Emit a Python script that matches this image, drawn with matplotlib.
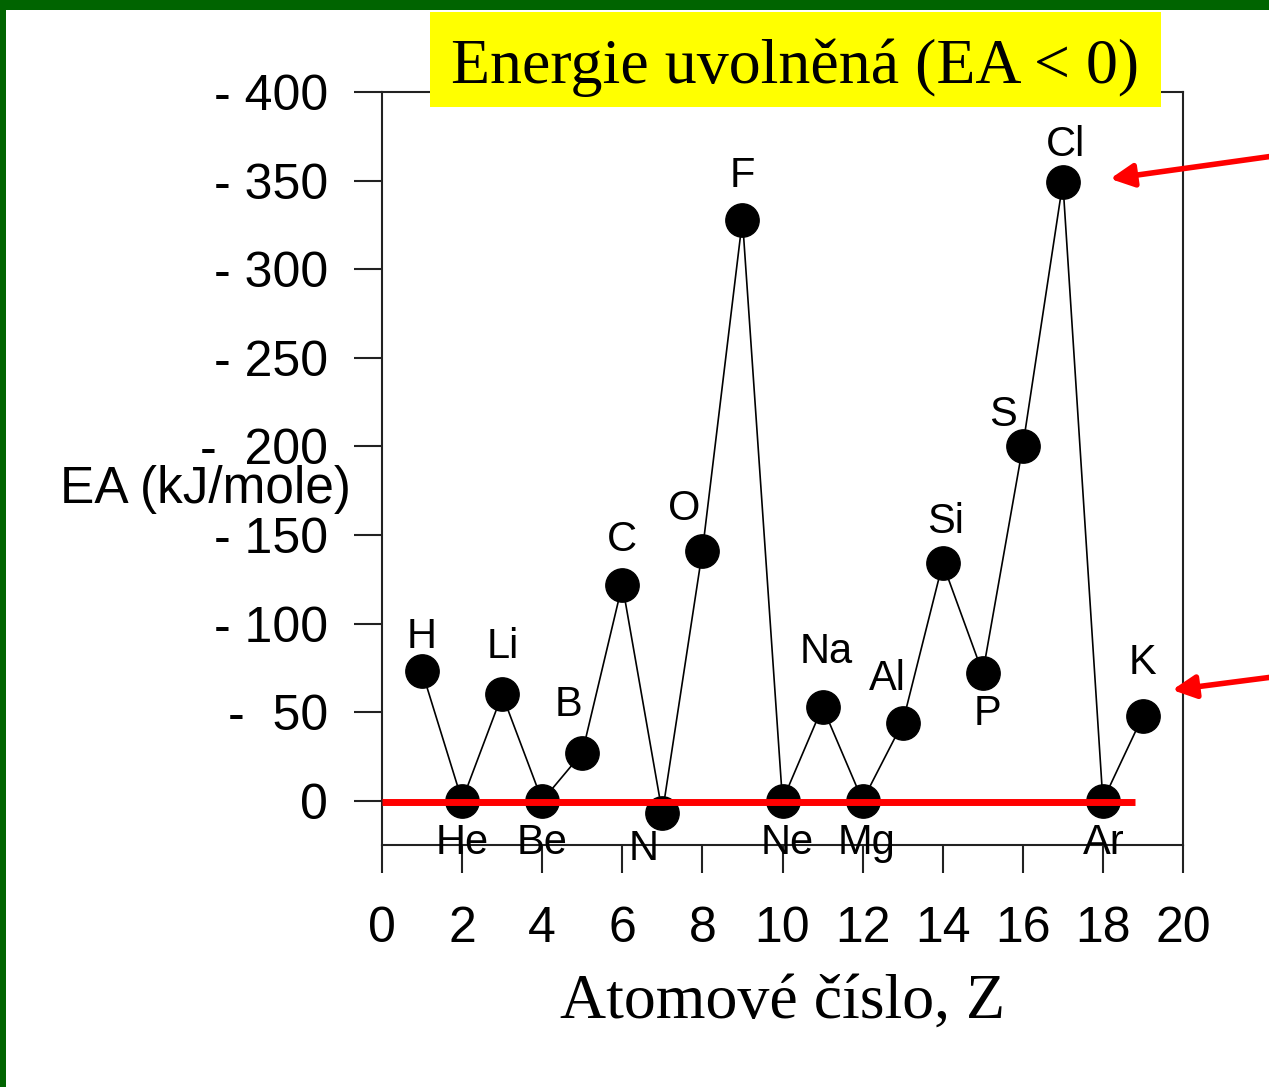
import matplotlib
matplotlib.use("Agg")
import matplotlib.pyplot as plt
from matplotlib.patches import Rectangle

# data: atomic number, element symbol, electron affinity magnitude (kJ/mol)
z_values = [1, 2, 3, 4, 5, 6, 7, 8, 9, 10, 11, 12, 13, 14, 15, 16, 17, 18, 19]
symbols = ["H", "He", "Li", "Be", "B", "C", "N", "O", "F", "Ne",
           "Na", "Mg", "Al", "Si", "P", "S", "Cl", "Ar", "K"]
ea_values = [73, 0, 60, 0, 27, 122, -7, 141, 328, 0,
             53, 0, 44, 134, 72, 200, 349, 0, 48]

y_ticks = [0, 50, 100, 150, 200, 250, 300, 350, 400]
y_tick_labels = ["0", "-  50", "- 100", "- 150", "-  200", "- 250", "- 300", "- 350", "- 400"]
x_ticks = [0, 2, 4, 6, 8, 10, 12, 14, 16, 18, 20]

# label offsets in pixels (dx, dy) relative to each point
label_offsets_px = [(0, 34), (0, -42), (1, 47), (0, -42), (-14, 48), (0, 45), (-19, -36),
                    (-18, 42), (0, 44), (5, -42), (4, 55), (4, -42), (-15, 44), (3, 41),
                    (5, -41), (-20, 31), (3, 37), (1, -42), (-1, 53)]

SANS = "Liberation Sans"
SERIF = "Liberation Serif"
W, H = 1269, 1087

fig = plt.figure(figsize=(W / 100, H / 100), dpi=100)
ax = fig.add_axes([382 / W, 1 - 845 / H, (1183 - 382) / W, (845 - 92) / H])

ax.plot(z_values, ea_values, color="black", lw=1.2, marker="o",
        markersize=24, markerfacecolor="black", markeredgecolor="black", zorder=3)

for z, ea, s, (dx, dy) in zip(z_values, ea_values, symbols, label_offsets_px):
    ax.annotate(s, (z, ea), xytext=(dx * 0.72, dy * 0.72), textcoords="offset points",
                ha="center", va="center", fontsize=30, family=SANS, zorder=4)

# red zero line
ax.hlines(-1, 0, 18.8, color="red", lw=5, zorder=5)

# red arrows pointing to Cl and K
ax.annotate("", xy=(18.18, 351), xytext=(22.3, 364), annotation_clip=False,
            arrowprops=dict(arrowstyle="-|>", color="red", lw=4, mutation_scale=35,
                            shrinkA=0, shrinkB=0))
ax.annotate("", xy=(19.73, 62.5), xytext=(22.3, 70), annotation_clip=False,
            arrowprops=dict(arrowstyle="-|>", color="red", lw=4, mutation_scale=35,
                            shrinkA=0, shrinkB=0))

ax.set_xlim(0, 20)
ax.set_ylim(-25, 400)
ax.set_xticks(x_ticks)
ax.set_xticklabels([str(t) for t in x_ticks], fontsize=36, family=SANS)
ax.set_yticks(y_ticks)
ax.set_yticklabels(y_tick_labels, fontsize=36, family=SANS)
ax.tick_params(axis="both", direction="out", length=20, width=1.5, color="#222222")
ax.tick_params(axis="x", pad=24)
ax.tick_params(axis="y", pad=19)
for sp in ax.spines.values():
    sp.set_linewidth(1.5)
    sp.set_color("#222222")

fig.text(205 / W, 1 - 503 / H, "EA (kJ/mole)", ha="center", va="baseline",
         fontsize=37, family=SANS)
fig.text(783 / W, 1 - 1018 / H, "Atomové číslo, Z", ha="center", va="baseline",
         fontsize=46, family=SERIF)

# yellow title box
fig.add_artist(Rectangle((430 / W, 1 - 107 / H), (1161 - 430) / W, 95 / H,
                         transform=fig.transFigure, facecolor="#ffff00",
                         edgecolor="none", zorder=10))
fig.text(795 / W, 1 - 83 / H, "Energie uvolněná (EA < 0)", ha="center", va="baseline",
         fontsize=46, family=SERIF, zorder=11)

# green frame strips (left and top)
fig.add_artist(Rectangle((0, 0), 6 / W, 1, transform=fig.transFigure,
                         facecolor="#006400", edgecolor="none", zorder=12))
fig.add_artist(Rectangle((0, 1 - 10 / H), 1, 10 / H, transform=fig.transFigure,
                         facecolor="#006400", edgecolor="none", zorder=12))

fig.savefig("out.png", dpi=100)
